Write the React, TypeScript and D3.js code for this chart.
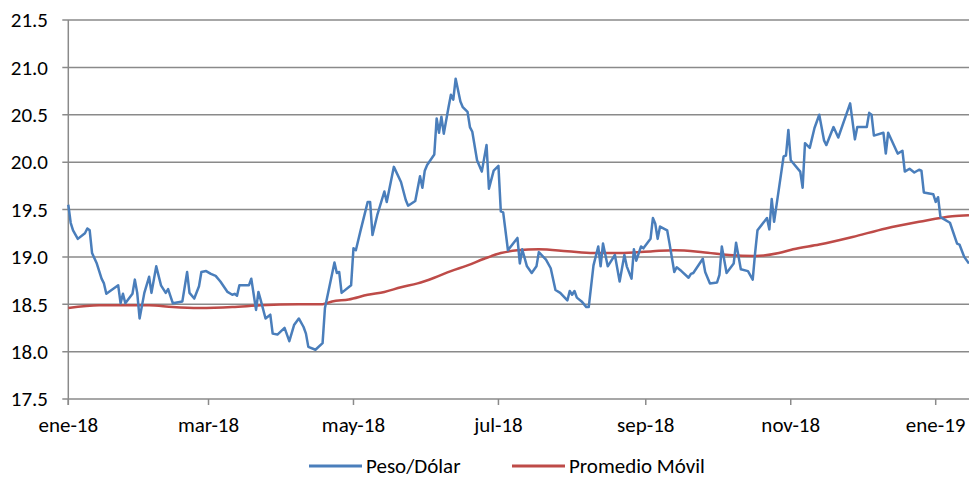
import { useEffect, useRef } from "react";
import * as d3 from "d3";

// Peso/Dólar daily series
const pesoDates = [
  "2018-01-01", "2018-01-02", "2018-01-03", "2018-01-05", "2018-01-08", "2018-01-09", "2018-01-10", "2018-01-11",
  "2018-01-13", "2018-01-15", "2018-01-16", "2018-01-17", "2018-01-22", "2018-01-23", "2018-01-24", "2018-01-25",
  "2018-01-28", "2018-01-29", "2018-01-30", "2018-01-31", "2018-02-02", "2018-02-04", "2018-02-05", "2018-02-07",
  "2018-02-09", "2018-02-11", "2018-02-12", "2018-02-14", "2018-02-18", "2018-02-20", "2018-02-21", "2018-02-23",
  "2018-02-25", "2018-02-26", "2018-02-28", "2018-03-02", "2018-03-04", "2018-03-06", "2018-03-09", "2018-03-11",
  "2018-03-12", "2018-03-13", "2018-03-14", "2018-03-16", "2018-03-18", "2018-03-19", "2018-03-21", "2018-03-22",
  "2018-03-23", "2018-03-25", "2018-03-27", "2018-03-28", "2018-03-30", "2018-04-02", "2018-04-04", "2018-04-06",
  "2018-04-08", "2018-04-10", "2018-04-11", "2018-04-12", "2018-04-15", "2018-04-18", "2018-04-19", "2018-04-23",
  "2018-04-24", "2018-04-25", "2018-04-26", "2018-04-30", "2018-05-01", "2018-05-02", "2018-05-04", "2018-05-06",
  "2018-05-07", "2018-05-08", "2018-05-09", "2018-05-11", "2018-05-14", "2018-05-15", "2018-05-18", "2018-05-21",
  "2018-05-23", "2018-05-24", "2018-05-27", "2018-05-29", "2018-05-30", "2018-05-31", "2018-06-01", "2018-06-04",
  "2018-06-05", "2018-06-06", "2018-06-07", "2018-06-08", "2018-06-10", "2018-06-11", "2018-06-12", "2018-06-13",
  "2018-06-15", "2018-06-16", "2018-06-18", "2018-06-19", "2018-06-20", "2018-06-22", "2018-06-24", "2018-06-26",
  "2018-06-27", "2018-06-29", "2018-07-01", "2018-07-02", "2018-07-03", "2018-07-05", "2018-07-09", "2018-07-10",
  "2018-07-11", "2018-07-13", "2018-07-15", "2018-07-17", "2018-07-18", "2018-07-21", "2018-07-23", "2018-07-25",
  "2018-07-27", "2018-07-30", "2018-07-31", "2018-08-01", "2018-08-02", "2018-08-03", "2018-08-05", "2018-08-07",
  "2018-08-08", "2018-08-10", "2018-08-12", "2018-08-13", "2018-08-14", "2018-08-16", "2018-08-19", "2018-08-21",
  "2018-08-23", "2018-08-24", "2018-08-26", "2018-08-27", "2018-08-28", "2018-08-30", "2018-08-31", "2018-09-03",
  "2018-09-04", "2018-09-05", "2018-09-06", "2018-09-07", "2018-09-10", "2018-09-11", "2018-09-13", "2018-09-14",
  "2018-09-16", "2018-09-19", "2018-09-20", "2018-09-21", "2018-09-25", "2018-09-26", "2018-09-28", "2018-10-01",
  "2018-10-02", "2018-10-03", "2018-10-05", "2018-10-08", "2018-10-09", "2018-10-11", "2018-10-14", "2018-10-16",
  "2018-10-17", "2018-10-18", "2018-10-22", "2018-10-23", "2018-10-24", "2018-10-25", "2018-10-29", "2018-10-30",
  "2018-10-31", "2018-11-01", "2018-11-05", "2018-11-06", "2018-11-07", "2018-11-09", "2018-11-11", "2018-11-13",
  "2018-11-15", "2018-11-16", "2018-11-19", "2018-11-21", "2018-11-26", "2018-11-28", "2018-11-29", "2018-12-03",
  "2018-12-04", "2018-12-05", "2018-12-06", "2018-12-10", "2018-12-11", "2018-12-12", "2018-12-16", "2018-12-18",
  "2018-12-19", "2018-12-21", "2018-12-23", "2018-12-25", "2018-12-26", "2018-12-27", "2018-12-31", "2019-01-01",
  "2019-01-02", "2019-01-03", "2019-01-07", "2019-01-10", "2019-01-11", "2019-01-13", "2019-01-15",
];

const pesoValues = [
  19.55, 19.36, 19.28, 19.19, 19.25, 19.3, 19.28, 19.04,
  18.93, 18.77, 18.72, 18.61, 18.7, 18.51, 18.61, 18.51,
  18.61, 18.76, 18.62, 18.35, 18.62, 18.79, 18.62, 18.9,
  18.7, 18.62, 18.66, 18.51, 18.53, 18.84, 18.62, 18.56,
  18.69, 18.84, 18.85, 18.82, 18.8, 18.74, 18.63, 18.6,
  18.61, 18.59, 18.7, 18.7, 18.7, 18.77, 18.44, 18.63,
  18.54, 18.35, 18.39, 18.19, 18.18, 18.25, 18.11, 18.28,
  18.35, 18.26, 18.19, 18.05, 18.02, 18.09, 18.46, 18.94,
  18.83, 18.84, 18.62, 18.7, 19.09, 19.07, 19.28, 19.48,
  19.58, 19.58, 19.23, 19.44, 19.69, 19.58, 19.95, 19.79,
  19.6, 19.54, 19.59, 19.85, 19.73, 19.91, 19.97, 20.08,
  20.46, 20.31, 20.48, 20.3, 20.58, 20.71, 20.66, 20.88,
  20.64, 20.58, 20.53, 20.37, 20.32, 20.02, 19.9, 20.18,
  19.72, 19.91, 19.96, 19.48, 19.47, 19.07, 19.2, 18.93,
  19.08, 18.9, 18.83, 18.9, 19.05, 18.97, 18.88, 18.65,
  18.62, 18.54, 18.64, 18.6, 18.64, 18.57, 18.53, 18.47,
  18.47, 18.91, 19.11, 18.9, 19.14, 18.9, 19.02, 18.74,
  19.02, 18.9, 18.77, 19.08, 18.96, 19.11, 19.09, 19.19,
  19.41, 19.35, 19.19, 19.32, 19.28, 19.14, 18.84, 18.89,
  18.85, 18.78, 18.82, 18.83, 18.98, 18.84, 18.72, 18.73,
  18.81, 19.11, 18.83, 18.93, 19.15, 18.87, 18.85, 18.76,
  19.04, 19.28, 19.41, 19.29, 19.61, 19.37, 20.06, 20.07,
  20.34, 20.02, 19.9, 19.73, 20.2, 20.15, 20.36, 20.5,
  20.23, 20.18, 20.37, 20.26, 20.62, 20.24, 20.37, 20.37,
  20.52, 20.5, 20.28, 20.31, 20.09, 20.31, 20.09, 20.12,
  19.9, 19.93, 19.89, 19.92, 19.91, 19.68, 19.66, 19.58,
  19.63, 19.42, 19.36, 19.14, 19.13, 19.0, 18.93,
];

// Promedio Móvil
const avgDates = [
  "2018-01-01", "2018-01-14", "2018-02-04", "2018-02-14", "2018-02-25", "2018-03-11", "2018-03-23", "2018-04-08",
  "2018-04-18", "2018-04-22", "2018-04-29", "2018-05-07", "2018-05-14", "2018-05-21", "2018-05-28", "2018-06-04",
  "2018-06-11", "2018-06-18", "2018-06-25", "2018-07-02", "2018-07-09", "2018-07-18", "2018-07-30", "2018-08-10",
  "2018-08-21", "2018-09-04", "2018-09-13", "2018-09-25", "2018-10-06", "2018-10-17", "2018-10-27", "2018-11-02",
  "2018-11-13", "2018-11-27", "2018-12-11", "2018-12-25", "2019-01-08", "2019-01-15",
];

const avgValues = [
  18.46, 18.49, 18.49, 18.47, 18.46, 18.47, 18.49, 18.5,
  18.5, 18.53, 18.55, 18.6, 18.63, 18.68, 18.72, 18.78,
  18.85, 18.91, 18.98, 19.04, 19.07, 19.08, 19.06, 19.04,
  19.04, 19.06, 19.07, 19.05, 19.02, 19.01, 19.04, 19.08,
  19.13, 19.21, 19.3, 19.37, 19.43, 19.44,
];

const yTicks = [17.5, 18.0, 18.5, 19.0, 19.5, 20.0, 20.5, 21.0, 21.5];
const xTickDates = ["2018-01-01", "2018-03-01", "2018-05-01", "2018-07-01", "2018-09-01", "2018-11-01", "2019-01-01"];
const xTickLabels = ["ene-18", "mar-18", "may-18", "jul-18", "sep-18", "nov-18", "ene-19"];
const seriesNames = ["Peso/Dólar", "Promedio Móvil"];

const FONT = "Carlito, Calibri, 'Liberation Sans', Arial, sans-serif";

export default function App() {
  const svgRef = useRef<SVGSVGElement>(null);

  useEffect(() => {
    if (!svgRef.current) return;
    const width = 969;
    const height = 479;
    const left = 68.3;
    const top = 20;
    const bottom = 399;

    d3.select(svgRef.current).selectAll("*").remove();
    const svg = d3.select(svgRef.current).attr("width", width).attr("height", height);

    const parse = d3.timeParse("%Y-%m-%d");
    const x = d3
      .scaleTime()
      .domain([parse("2018-01-01")!, parse("2019-01-01")!])
      .range([left, 935.7]);
    const y = d3.scaleLinear().domain([17.5, 21.5]).range([bottom, top]);

    // gridlines + y tick marks
    svg
      .append("g")
      .selectAll("line")
      .data(yTicks)
      .join("line")
      .attr("x1", left - 6)
      .attr("x2", width)
      .attr("y1", (d) => y(d))
      .attr("y2", (d) => y(d))
      .attr("stroke", "#8a8a8a")
      .attr("stroke-width", 1.5);

    // y axis line
    svg
      .append("line")
      .attr("x1", left)
      .attr("x2", left)
      .attr("y1", top)
      .attr("y2", bottom + 6)
      .attr("stroke", "#8a8a8a")
      .attr("stroke-width", 1.5);

    // x tick marks
    const xTicks = xTickDates.map((s) => parse(s)!);
    svg
      .append("g")
      .selectAll("line")
      .data(xTicks)
      .join("line")
      .attr("x1", (d) => x(d))
      .attr("x2", (d) => x(d))
      .attr("y1", bottom)
      .attr("y2", bottom + 6)
      .attr("stroke", "#8a8a8a")
      .attr("stroke-width", 1.5);

    // y labels
    svg
      .append("g")
      .selectAll("text")
      .data(yTicks)
      .join("text")
      .attr("x", 48)
      .attr("y", (d) => y(d))
      .attr("dy", "0.35em")
      .attr("text-anchor", "end")
      .style("font-family", FONT)
      .style("font-size", "21px")
      .attr("fill", "#000")
      .text((d) => d.toFixed(1));

    // x labels
    svg
      .append("g")
      .selectAll("text")
      .data(xTicks)
      .join("text")
      .attr("x", (d) => x(d))
      .attr("y", 432)
      .attr("text-anchor", "middle")
      .style("font-family", FONT)
      .style("font-size", "21px")
      .attr("fill", "#000")
      .text((_, i) => xTickLabels[i]);

    // lines
    const peso = pesoDates.map((s, i) => ({ date: parse(s)!, value: pesoValues[i] }));
    const avg = avgDates.map((s, i) => ({ date: parse(s)!, value: avgValues[i] }));

    const line = d3
      .line<{ date: Date; value: number }>()
      .x((d) => x(d.date))
      .y((d) => y(d.value));
    const smooth = d3
      .line<{ date: Date; value: number }>()
      .x((d) => x(d.date))
      .y((d) => y(d.value))
      .curve(d3.curveMonotoneX);

    svg
      .append("path")
      .datum(avg)
      .attr("d", smooth)
      .attr("fill", "none")
      .attr("stroke", "#be4b48")
      .attr("stroke-width", 2.5);

    svg
      .append("path")
      .datum(peso)
      .attr("d", line)
      .attr("fill", "none")
      .attr("stroke", "#4a7ebb")
      .attr("stroke-width", 2.5)
      .attr("stroke-linejoin", "round");

    // legend
    const colors = ["#4a7ebb", "#be4b48"];
    const legendX = [309, 512];
    const legend = svg
      .append("g")
      .selectAll("g")
      .data(seriesNames)
      .join("g")
      .attr("transform", (_, i) => `translate(${legendX[i]},466)`);
    legend
      .append("line")
      .attr("x1", 0)
      .attr("x2", 53)
      .attr("stroke", (_, i) => colors[i])
      .attr("stroke-width", 3);
    legend
      .append("text")
      .attr("x", 57)
      .attr("dy", "0.35em")
      .style("font-family", FONT)
      .style("font-size", "21px")
      .attr("fill", "#000")
      .text((d) => d);
  }, []);

  return (
    <div style={{ position: "absolute", left: 0, top: 0 }}>
      <svg ref={svgRef} style={{ display: "block" }} />
    </div>
  );
}
